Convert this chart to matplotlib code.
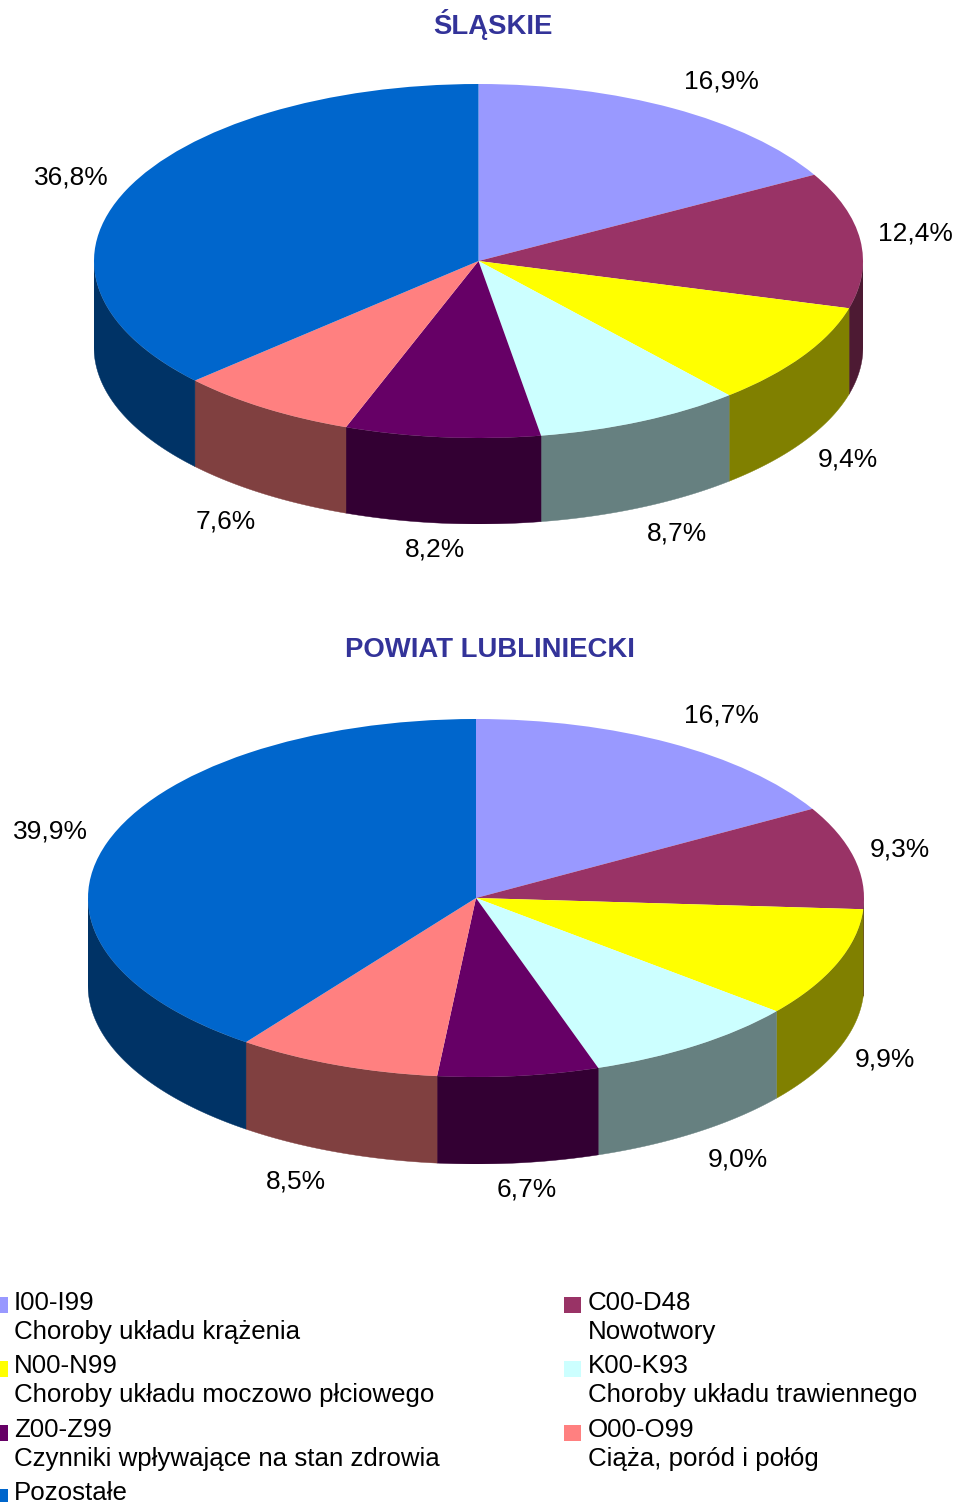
# Two pseudo 3D pies with a shared legend
import numpy as np
import matplotlib
matplotlib.use("Agg")
import matplotlib.pyplot as plt
from matplotlib.patches import Polygon, Rectangle

plt.rcParams['font.family'] = ['Liberation Sans', 'DejaVu Sans']

W = 956
H = 1502

slaskie = [16.9, 12.4, 9.4, 8.7, 8.2, 7.6, 36.8]
lubliniecki = [16.7, 9.3, 9.9, 9.0, 6.7, 8.5, 39.9]
slaskie_labels = ["16,9%", "12,4%", "9,4%", "8,7%", "8,2%", "7,6%", "36,8%"]
lubliniecki_labels = ["16,7%", "9,3%", "9,9%", "9,0%", "6,7%", "8,5%", "39,9%"]

top_colors = ["#9999FF", "#993366", "#FFFF00", "#CCFFFF", "#660066", "#FF8080", "#0066CC"]
side_colors = ["#4D4D80", "#4D1A33", "#808000", "#668080", "#330033", "#804040", "#003366"]

legend_codes = ["I00-I99", "C00-D48", "N00-N99", "K00-K93", "Z00-Z99", "O00-O99", "Pozostałe"]
legend_names = ["Choroby układu krążenia", "Nowotwory", "Choroby układu moczowo płciowego",
                "Choroby układu trawiennego", "Czynniki wpływające na stan zdrowia",
                "Ciąża, poród i połóg", ""]

# label centres in pixels
slaskie_pos = [(721, 81), (915, 234), (848, 459), (677, 533), (435, 550), (226, 521), (71, 178)]
lubliniecki_pos = [(721, 716), (900, 850), (885, 1060), (738, 1160), (527, 1189), (296, 1182), (50, 832)]


def draw_pie(fig, values, cx, cy, rx, ry, depth):
    # axes in pixels: unit circle maps to the ellipse, the wall hangs below it
    d = depth / ry
    ax = fig.add_axes([(cx - rx) / W, 1 - (cy + ry + depth) / H, 2 * rx / W, (2 * ry + depth) / H])
    ax.pie(values, colors=top_colors, startangle=90, counterclock=False, radius=1,
           wedgeprops={"linewidth": 0})
    ax.set_aspect("auto")
    ax.set_xlim(-1, 1)
    ax.set_ylim(-1 - d, 1)
    ax.patch.set_alpha(0)

    # angles clockwise from the top
    edges = np.cumsum([0] + list(values)) / np.sum(values) * 2 * np.pi
    for i in range(len(values)):
        a0 = max(edges[i], np.pi / 2)
        a1 = min(edges[i + 1], 3 * np.pi / 2)
        if a1 <= a0:
            continue
        t = np.linspace(a0, a1, 80)
        x = np.sin(t)
        y = np.cos(t)
        pts = np.concatenate([np.column_stack([x, y]), np.column_stack([x[::-1], y[::-1] - d])])
        ax.add_patch(Polygon(pts, closed=True, facecolor=side_colors[i], edgecolor=side_colors[i],
                             linewidth=0.3, zorder=0))
    return ax


fig = plt.figure(figsize=(W / 100, H / 100), dpi=100)
draw_pie(fig, slaskie, 478.5, 261, 384.5, 177, 86)
draw_pie(fig, lubliniecki, 476, 898, 388, 179, 87)

# overlay for all the text, in pixel coordinates
over = fig.add_axes([0, 0, 1, 1])
over.set_xlim(0, W)
over.set_ylim(H, 0)
over.axis("off")

over.text(493, 25, "ŚLĄSKIE", color="#333399", fontsize=19.8, fontweight="bold", ha="center", va="center")
over.text(490, 650, "POWIAT LUBLINIECKI", color="#333399", fontsize=19.8, fontweight="bold", ha="center", va="center")

for lab, pos in zip(slaskie_labels, slaskie_pos):
    over.text(pos[0], pos[1], lab, fontsize=19, ha="center", va="center", color="black")
for lab, pos in zip(lubliniecki_labels, lubliniecki_pos):
    over.text(pos[0], pos[1], lab, fontsize=19, ha="center", va="center", color="black")

# legend, two columns, code above name
for i in range(len(legend_codes)):
    col = i % 2
    row = i // 2
    box_x = -9 if col == 0 else 564
    text_x = 14 if col == 0 else 588
    y = 1303 + row * 63.3
    over.add_patch(Rectangle((box_x, 1297 + row * 64), 17, 16, facecolor=top_colors[i], edgecolor="none"))
    over.text(text_x, y, legend_codes[i], fontsize=18.6, ha="left", va="center", color="black")
    if legend_names[i]:
        over.text(text_x, y + 29, legend_names[i], fontsize=18.6, ha="left", va="center", color="black")

fig.savefig("out.png", dpi=100)
